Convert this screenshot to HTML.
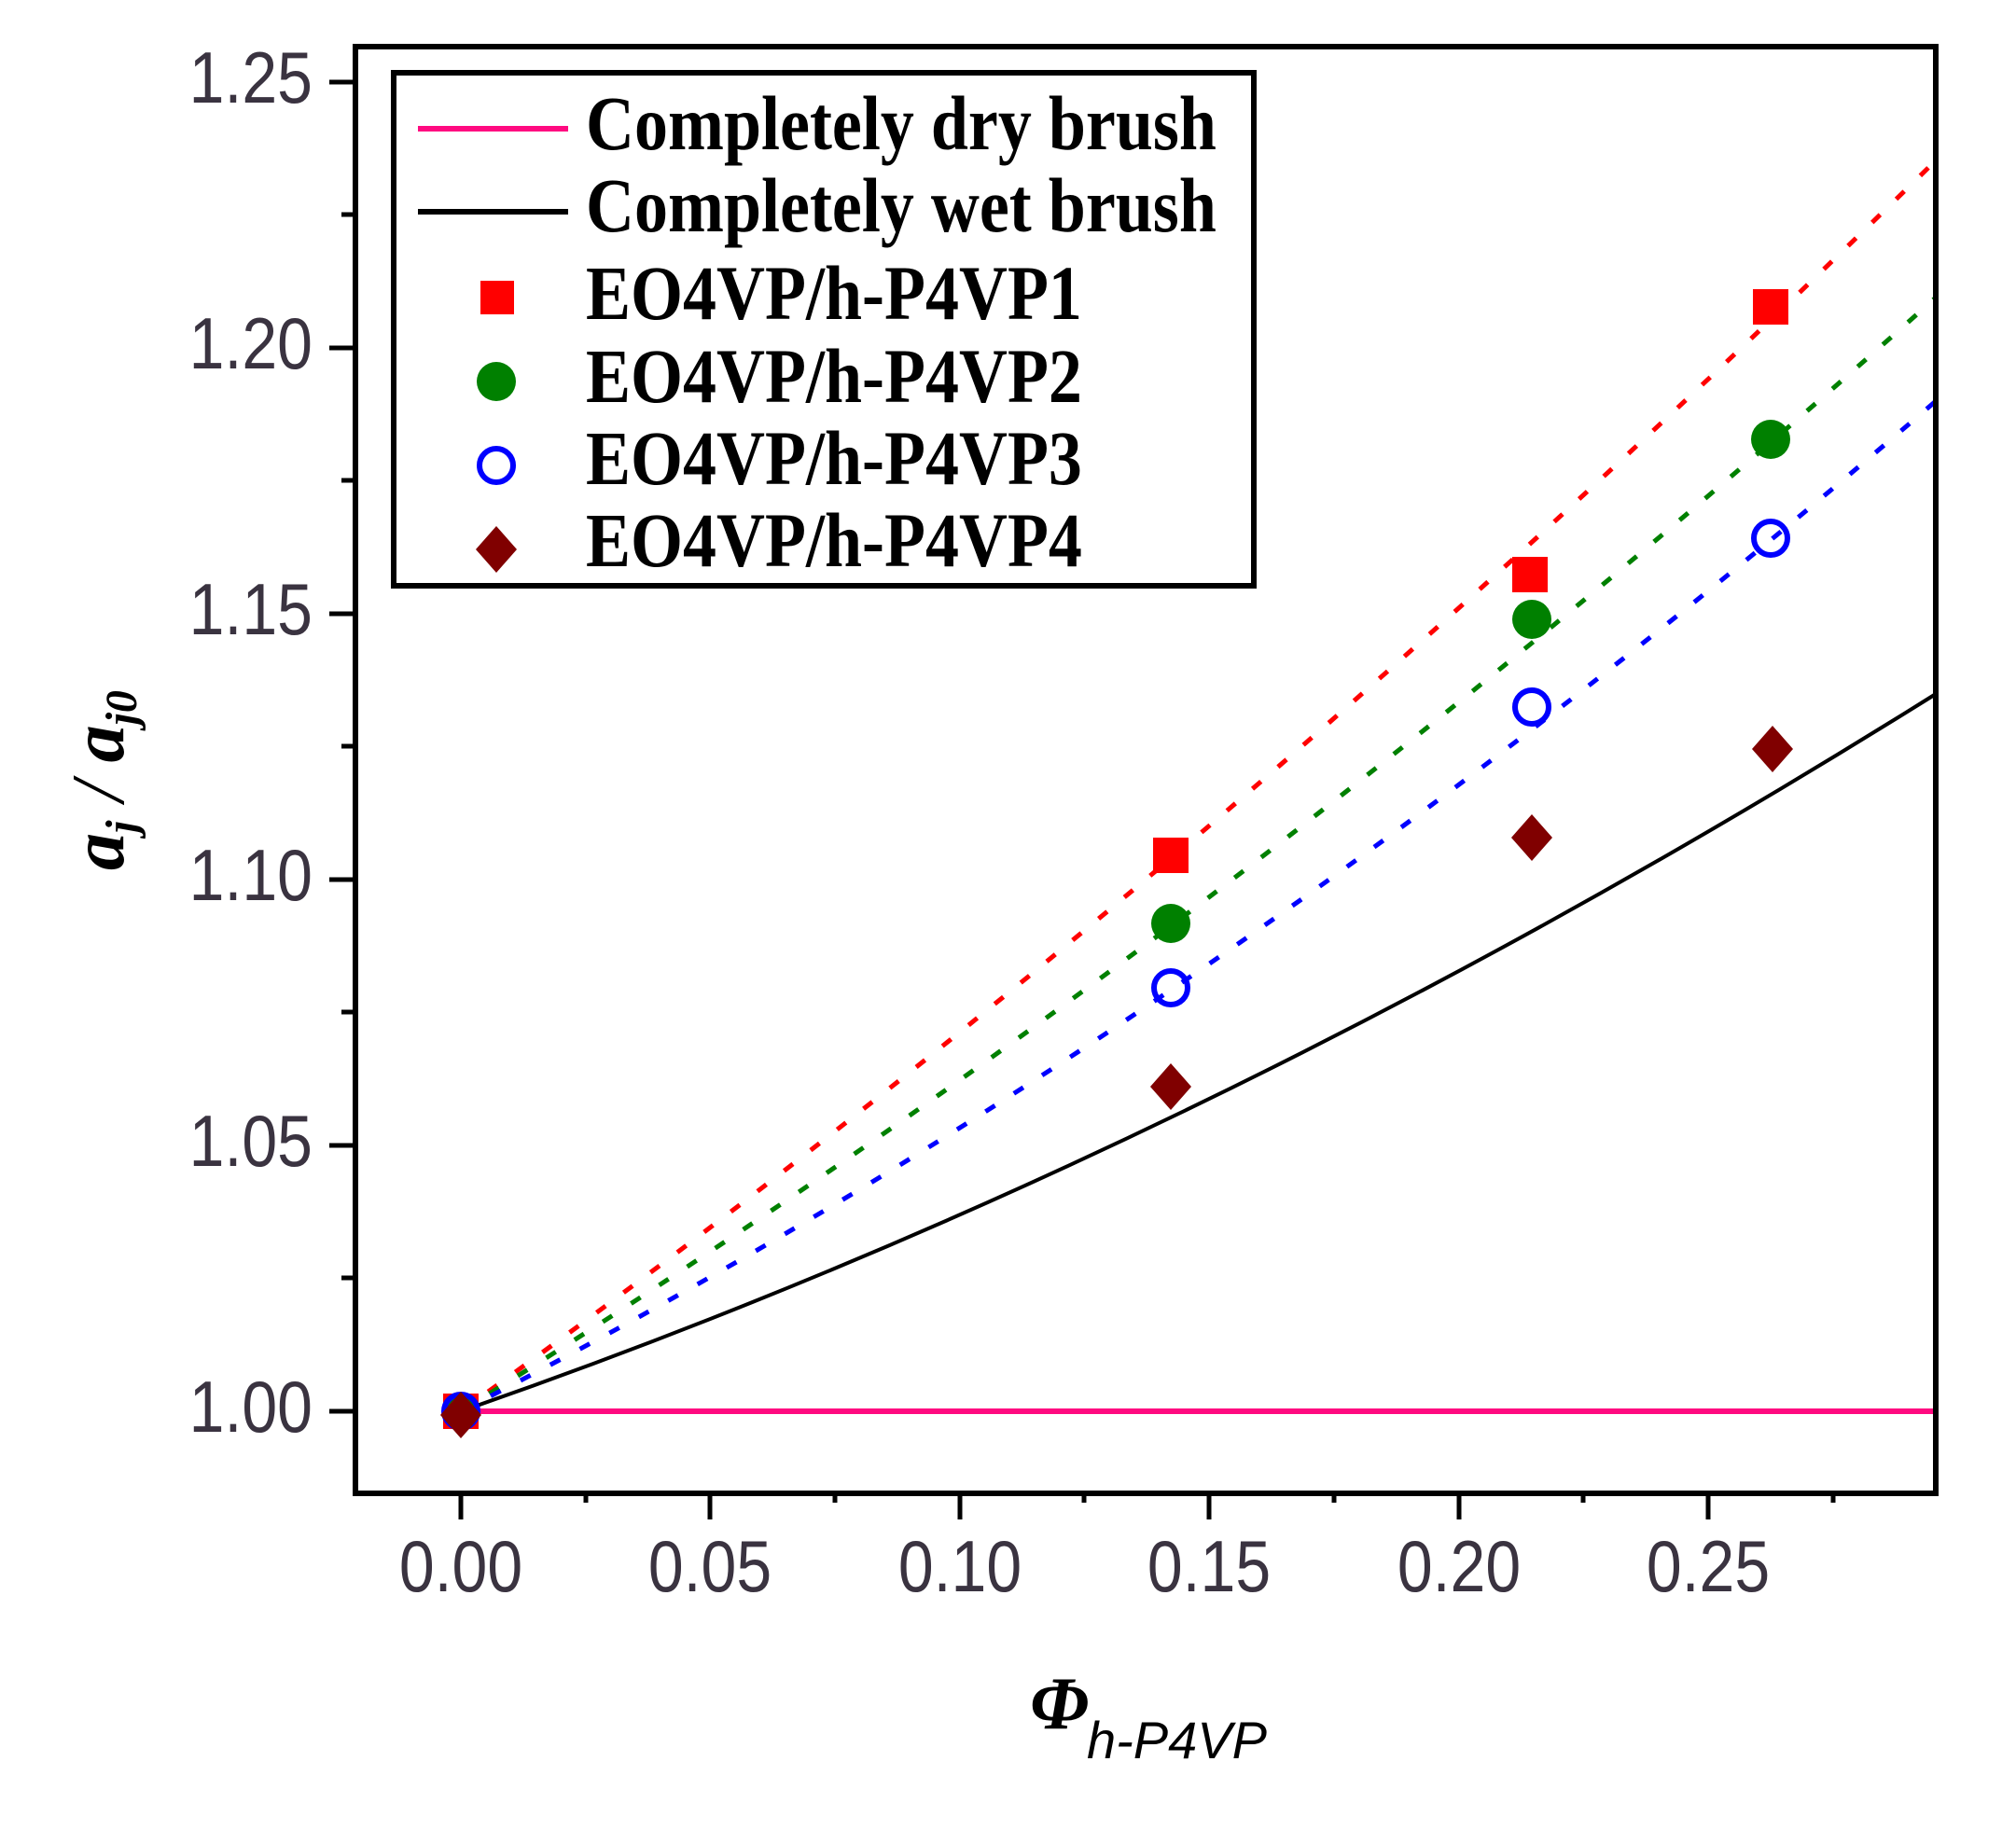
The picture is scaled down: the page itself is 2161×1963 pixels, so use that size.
<!DOCTYPE html>
<html><head><meta charset="utf-8"><style>
html,body{margin:0;padding:0;background:#fff;}
svg{display:block;}
</style></head><body>
<svg width="2161" height="1963" viewBox="0 0 2161 1963" xmlns="http://www.w3.org/2000/svg">
<rect width="2161" height="1963" fill="#fff"/>
<!-- curves -->
<line x1="494" y1="1513" x2="2075" y2="1513" stroke="#ff0a80" stroke-width="6"/>
<path d="M494,1513 Q1284.5,1239 2075,744" fill="none" stroke="#000" stroke-width="4"/>
<path d="M494,1513 Q1284.5,948 2075,172" fill="none" stroke="#ff0000" stroke-width="5" stroke-dasharray="12 24"/>
<path d="M494,1513 Q1284.5,1025 2075,319" fill="none" stroke="#008000" stroke-width="5" stroke-dasharray="12 24"/>
<path d="M494,1513 Q1284.5,1111 2075,430" fill="none" stroke="#0000ff" stroke-width="5" stroke-dasharray="12 24"/>
<!-- markers -->
<g fill="#ff0000">
<rect x="475" y="1494" width="38" height="38"/>
<rect x="1236" y="898" width="38" height="38"/>
<rect x="1621" y="597" width="38" height="38"/>
<rect x="1879" y="310" width="38" height="38"/>
</g>
<g fill="#008000">
<circle cx="494" cy="1513" r="20"/>
<circle cx="1255" cy="990" r="21"/>
<circle cx="1642" cy="664" r="21"/>
<circle cx="1898" cy="471" r="21"/>
</g>
<g fill="none" stroke="#0000ff" stroke-width="6">
<circle cx="494" cy="1513" r="18"/>
<circle cx="1255" cy="1059" r="18"/>
<circle cx="1642" cy="758" r="18"/>
<circle cx="1898" cy="577" r="18"/>
</g>
<g fill="#800000">
<polygon points="494,1492 516,1517 494,1542 472,1517"/>
<polygon points="1255,1140 1277,1165 1255,1190 1233,1165"/>
<polygon points="1642,873 1664,898 1642,923 1620,898"/>
<polygon points="1900,778 1922,803 1900,828 1878,803"/>
</g>
<!-- frame -->
<rect x="381" y="50" width="1694" height="1551" fill="none" stroke="#000" stroke-width="6"/>
<!-- x ticks -->
<g stroke="#000" stroke-width="5">
<line x1="494" y1="1601" x2="494" y2="1629"/>
<line x1="761" y1="1601" x2="761" y2="1629"/>
<line x1="1029" y1="1601" x2="1029" y2="1629"/>
<line x1="1296" y1="1601" x2="1296" y2="1629"/>
<line x1="1564" y1="1601" x2="1564" y2="1629"/>
<line x1="1831" y1="1601" x2="1831" y2="1629"/>
<line x1="628" y1="1601" x2="628" y2="1611"/>
<line x1="895" y1="1601" x2="895" y2="1611"/>
<line x1="1162" y1="1601" x2="1162" y2="1611"/>
<line x1="1430" y1="1601" x2="1430" y2="1611"/>
<line x1="1697" y1="1601" x2="1697" y2="1611"/>
<line x1="1965" y1="1601" x2="1965" y2="1611"/>
<line x1="353" y1="1513" x2="381" y2="1513"/>
<line x1="353" y1="1228" x2="381" y2="1228"/>
<line x1="353" y1="943" x2="381" y2="943"/>
<line x1="353" y1="658" x2="381" y2="658"/>
<line x1="353" y1="373" x2="381" y2="373"/>
<line x1="353" y1="88" x2="381" y2="88"/>
<line x1="366" y1="1370" x2="381" y2="1370"/>
<line x1="366" y1="1085" x2="381" y2="1085"/>
<line x1="366" y1="800" x2="381" y2="800"/>
<line x1="366" y1="515" x2="381" y2="515"/>
<line x1="366" y1="230" x2="381" y2="230"/>
</g>
<g font-family="Liberation Sans, sans-serif" font-size="68" fill="#3a3340" text-anchor="middle">
<text transform="translate(494,1706) scale(1,1.15)">0.00</text>
<text transform="translate(761,1706) scale(1,1.15)">0.05</text>
<text transform="translate(1029,1706) scale(1,1.15)">0.10</text>
<text transform="translate(1296,1706) scale(1,1.15)">0.15</text>
<text transform="translate(1564,1706) scale(1,1.15)">0.20</text>
<text transform="translate(1831,1706) scale(1,1.15)">0.25</text>
</g>
<g font-family="Liberation Sans, sans-serif" font-size="68" fill="#3a3340" text-anchor="end">
<text transform="translate(335,1535) scale(1,1.15)">1.00</text>
<text transform="translate(335,1250) scale(1,1.15)">1.05</text>
<text transform="translate(335,965) scale(1,1.15)">1.10</text>
<text transform="translate(335,680) scale(1,1.15)">1.15</text>
<text transform="translate(335,395) scale(1,1.15)">1.20</text>
<text transform="translate(335,110) scale(1,1.15)">1.25</text>
</g>
<!-- legend -->
<rect x="422" y="78" width="922" height="550" fill="#fff" stroke="#000" stroke-width="6"/>
<line x1="448" y1="138" x2="609" y2="138" stroke="#ff0a80" stroke-width="6"/>
<line x1="448" y1="227" x2="609" y2="227" stroke="#000" stroke-width="6"/>
<rect x="515" y="301" width="36" height="36" fill="#ff0000"/>
<circle cx="532" cy="409" r="21" fill="#008000"/>
<circle cx="532" cy="499" r="18" fill="none" stroke="#0000ff" stroke-width="6"/>
<polygon points="532,564 554,589 532,614 510,589" fill="#800000"/>
<g font-family="Liberation Serif, serif" font-weight="bold" font-size="72" fill="#000">
<text transform="translate(628,160) scale(1,1.15)">Completely dry brush</text>
<text transform="translate(628,248) scale(1,1.15)">Completely wet brush</text>
<text transform="translate(628,342) scale(1,1.15)">EO4VP/h-P4VP1</text>
<text transform="translate(628,431) scale(1,1.15)">EO4VP/h-P4VP2</text>
<text transform="translate(628,519) scale(1,1.15)">EO4VP/h-P4VP3</text>
<text transform="translate(628,607) scale(1,1.15)">EO4VP/h-P4VP4</text>
</g>
<!-- axis titles -->
<text transform="translate(1104,1853)" font-family="Liberation Serif, serif" font-weight="bold" font-style="italic" font-size="80" fill="#000">Φ</text>
<text transform="translate(1165,1885)" font-family="Liberation Sans, sans-serif" font-style="italic" font-size="56" fill="#000">h-P4VP</text>
<text transform="translate(132,933) rotate(-90)" font-family="Liberation Serif, serif" font-weight="bold" font-style="italic" font-size="80" fill="#000">a<tspan font-size="48" dy="14">j</tspan><tspan dy="-14" font-weight="normal"> / </tspan>a<tspan font-size="48" dy="14">j0</tspan></text>
</svg>
</body></html>
